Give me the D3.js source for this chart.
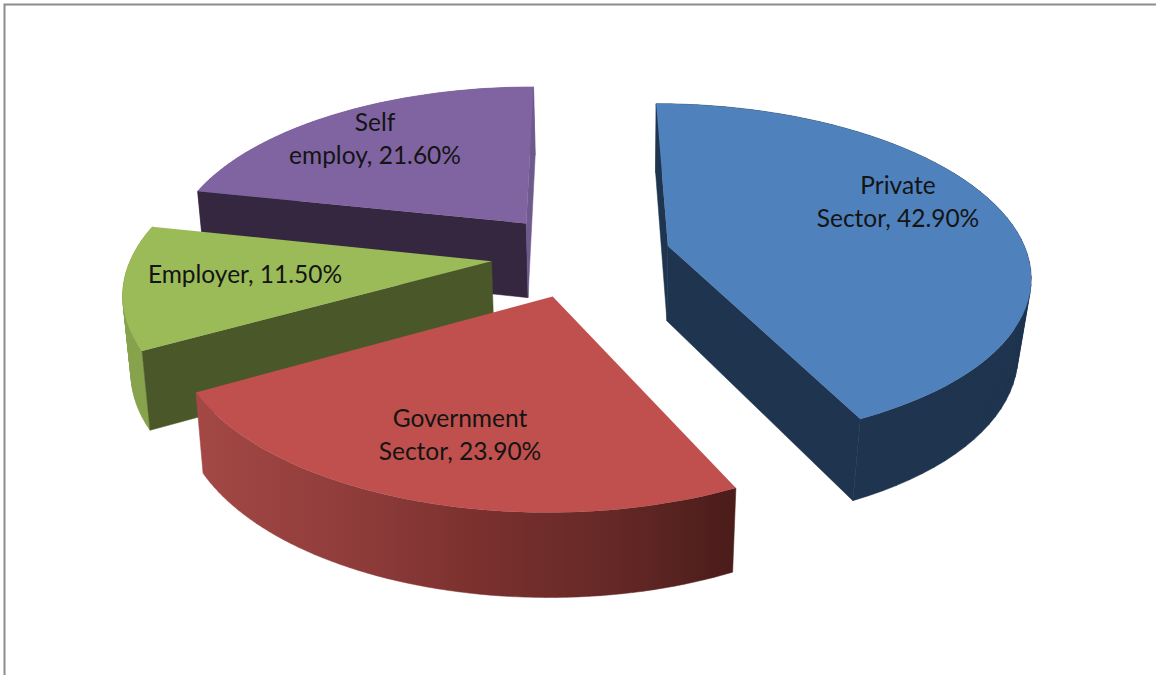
<!DOCTYPE html>
<html lang="en">
	<head>
		<meta charset="utf-8">
		<title>Employment by sector</title>
		<script src="https://cdn.jsdelivr.net/npm/d3@7"></script>
		<style>
			html, body { margin:0; padding:0; background:#fff; overflow:hidden; }
			text { font-family:Lato, "Open Sans", sans-serif; font-size:24.5px; fill:#141414; text-anchor:middle; }
		</style>
	</head>
	<body>
		<script>
	// data
	var categories = ["Private Sector", "Government Sector", "Employer", "Self employ"];
	var values = [42.9, 23.9, 11.5, 21.6];
	var labelLines = [["Private", "Sector, 42.90%"], ["Government", "Sector, 23.90%"], ["Employer, 11.50%"], ["Self", "employ, 21.60%"]];

	// colours per slice, null = that cut wall faces away and is not drawn
	var topColors = ["#4f81bd", "#c0504d", "#9bbb59", "#8064a2"];
	var outerColors = ["#1f344f", "url(#redWall)", "#87a34c", "#6f5a8e"];
	var startColors = ["#1f344f", null, "#4a5729", "#35273f"];
	var endColors = ["#1f344f", null, null, "#6f5a8e"];

	// where the labels sit, and paint order (far to near)
	var labelCenters = [[898, 202], [460, 435], [245, 275], [375, 139]];
	var drawOrder = [3, 0, 2, 1];

	var w = 1156;
	var h = 675;

	// projection of the pie plane, fitted to the picture
	var cx = 581, cy = 255;
	var A = 359.5, B = 167.3, k = 0.158;
	var explode = 0.25;
	var depth = 75.5, depthK = 0.09;
	var vanishX = 640, convergeL = 0.016, convergeR = 0.034;

	function project(X, Y) {
		var d = 1 + k * Y;
		return { x: cx + A * X / d, y: cy - B * Y / d, Y: Y };
	}
	function drop(p) {
		var m = p.x < vanishX ? convergeL : convergeR;
		return [vanishX + (p.x - vanishX) * (1 - m), p.y + depth / (1 + depthK * p.Y)];
	}
	function top2(p) { return [p.x, p.y]; }

	var svg = d3.select("body").append("svg")
		.attr("width", w)
		.attr("height", h)
		.style("display", "block");

	var grad = svg.append("defs").append("linearGradient")
		.attr("id", "redWall")
		.attr("gradientUnits", "userSpaceOnUse")
		.attr("x1", 197).attr("x2", 736).attr("y1", 0).attr("y2", 0);
	grad.selectAll("stop")
		.data([[0, "#a34845"], [0.3, "#8e3c3a"], [0.53, "#7a302e"], [0.78, "#642826"], [1, "#4a1c1a"]])
		.enter().append("stop")
		.attr("offset", function(d) { return d[0]; })
		.attr("stop-color", function(d) { return d[1]; });

	// frame
	svg.append("path")
		.attr("d", "M4.5,675V4.5H1156")
		.attr("fill", "none")
		.attr("stroke", "#8c8c8c")
		.attr("stroke-width", 2);

	var pie = d3.pie().sort(null)
		.value(function(d) { return d; });
	var arcs = pie(values);
	var line = d3.line();

	drawOrder.forEach(function(i) {
		var a = arcs[i];
		var mid = (a.startAngle + a.endAngle) / 2;
		var ox = explode * Math.sin(mid), oy = explode * Math.cos(mid);
		var apex = project(ox, oy);
		var rim = d3.range(0, 61).map(function(j) {
			var t = a.startAngle + (a.endAngle - a.startAngle) * j / 60;
			return project(ox + Math.sin(t), oy + Math.cos(t));
		});
		var g = svg.append("g").attr("class", "slice").attr("data-name", categories[i]);

		// outer wall: quads wound the same way in one path, so they fill as a union
		var wall = d3.pairs(rim).map(function(d) {
			var q = [top2(d[0]), top2(d[1]), drop(d[1]), drop(d[0])];
			if (d3.polygonArea(q) < 0) q.reverse();
			return line(q) + "Z";
		}).join("");
		g.append("path").attr("d", wall).attr("fill", outerColors[i])
			.attr("stroke", outerColors[i]).attr("stroke-width", 0.5);

		// cut walls
		var first = rim[0], last = rim[rim.length - 1];
		if (startColors[i]) {
			g.append("path")
				.attr("d", line([top2(apex), top2(first), drop(first), drop(apex)]) + "Z")
				.attr("fill", startColors[i])
				.attr("stroke", startColors[i]).attr("stroke-width", 0.5);
		}
		if (endColors[i]) {
			g.append("path")
				.attr("d", line([top2(apex), top2(last), drop(last), drop(apex)]) + "Z")
				.attr("fill", endColors[i])
				.attr("stroke", endColors[i]).attr("stroke-width", 0.5);
		}

		// top face
		g.append("path")
			.attr("d", line([top2(apex)].concat(rim.map(top2))) + "Z")
			.attr("fill", topColors[i]);
	});

	// labels go on last
	labelLines.forEach(function(lines, i) {
		var c = labelCenters[i];
		var t = svg.append("text").attr("x", c[0]).attr("y", c[1] - (lines.length - 1) * 16.5 + 8);
		t.selectAll("tspan").data(lines).enter().append("tspan")
			.attr("x", c[0])
			.attr("dy", function(d, j) { return j ? 33 : 0; })
			.text(function(d) { return d; });
	});
		</script>
	</body>
</html>
